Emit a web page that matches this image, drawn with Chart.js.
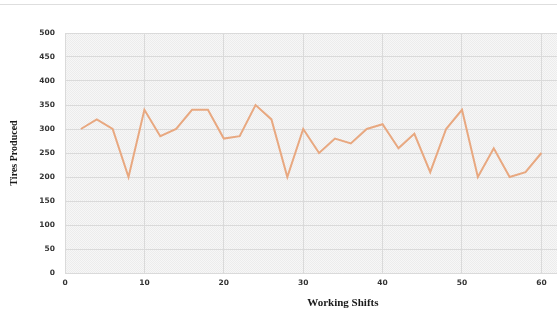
<!DOCTYPE html>
<html>
<head>
<meta charset="utf-8">
<script src="https://cdn.jsdelivr.net/npm/chart.js@4/dist/chart.umd.min.js"></script>
<style>
  html, body { margin: 0; padding: 0; background: #ffffff; }
  #frame { position: relative; width: 557px; height: 322px; overflow: hidden; }
  #rule { position: absolute; left: 0; top: 4px; width: 557px; height: 1px; background: #dedede; }
  #wrap { position: absolute; left: 0; top: 0; width: 632px; height: 322px; }
</style>
</head>
<body>
<div id="frame">
  <div id="rule"></div>
  <div id="wrap"><canvas id="chart"></canvas></div>
</div>
<script>
// Tires produced per working shift
const shifts = [2, 4, 6, 8, 10, 12, 14, 16, 18, 20, 22, 24, 26, 28, 30,
                32, 34, 36, 38, 40, 42, 44, 46, 48, 50, 52, 54, 56, 58, 60];
const tires  = [300, 320, 300, 200, 340, 285, 300, 340, 340, 280, 285, 350, 320, 200, 300,
                250, 280, 270, 300, 310, 260, 290, 210, 300, 340, 200, 260, 200, 210, 250];
const xTicks = [0, 10, 20, 30, 40, 50, 60, 70];
const yTicks = [0, 50, 100, 150, 200, 250, 300, 350, 400, 450, 500];

const points = shifts.map((s, i) => ({ x: s, y: tires[i] }));

// Fine stippled fill behind the plot area
function makeStipple(ctx) {
  const c = document.createElement('canvas');
  c.width = 2; c.height = 2;
  const p = c.getContext('2d');
  p.fillStyle = '#f7f7f7'; p.fillRect(0, 0, 2, 2);
  p.fillStyle = '#ececec'; p.fillRect(0, 0, 1, 1); p.fillRect(1, 1, 1, 1);
  return ctx.createPattern(c, 'repeat');
}

const plotBackground = {
  id: 'plotBackground',
  beforeDraw(chart) {
    const { ctx, chartArea: a } = chart;
    ctx.save();
    ctx.fillStyle = makeStipple(ctx);
    ctx.fillRect(a.left, a.top, a.right - a.left, a.bottom - a.top);
    ctx.restore();
  }
};

const tickFont = { family: 'DejaVu Sans', size: 7.5, weight: 'bold' };
const titleFont = { family: 'Liberation Serif', size: 11, weight: 'bold' };

new Chart(document.getElementById('chart'), {
  type: 'line',
  data: {
    datasets: [{
      data: points,
      borderColor: '#e8a880',
      borderWidth: 2,
      pointRadius: 0,
      tension: 0,
      fill: false
    }]
  },
  options: {
    responsive: true,
    maintainAspectRatio: false,
    animation: false,
    layout: { padding: { top: 33, right: 10, bottom: 0, left: 0 } },
    plugins: { legend: { display: false }, tooltip: { enabled: false } },
    scales: {
      x: {
        type: 'linear',
        min: 0,
        max: 70,
        afterBuildTicks(scale) { scale.ticks = xTicks.map(v => ({ value: v })); },
        afterFit(scale) { scale.height = 49; },
        grid: { color: '#dadada', lineWidth: 1, drawTicks: false },
        border: { display: false },
        ticks: { font: tickFont, color: '#333333', padding: 6, maxRotation: 0 },
        title: {
          display: true,
          text: 'Working Shifts',
          font: titleFont,
          color: '#1a1a1a',
          padding: { top: 0, bottom: 12 }
        }
      },
      y: {
        min: 0,
        max: 500,
        afterBuildTicks(scale) { scale.ticks = yTicks.map(v => ({ value: v })); },
        afterFit(scale) { scale.width = 65; },
        grid: { color: '#dadada', lineWidth: 1, drawTicks: false },
        border: { display: false },
        ticks: { font: tickFont, color: '#333333', padding: 10 },
        title: {
          display: true,
          text: 'Tires Produced',
          font: { family: 'Liberation Serif', size: 10, weight: 'bold' },
          color: '#1a1a1a',
          padding: { top: 8, bottom: 0 }
        }
      }
    }
  },
  plugins: [plotBackground]
});
</script>
</body>
</html>
